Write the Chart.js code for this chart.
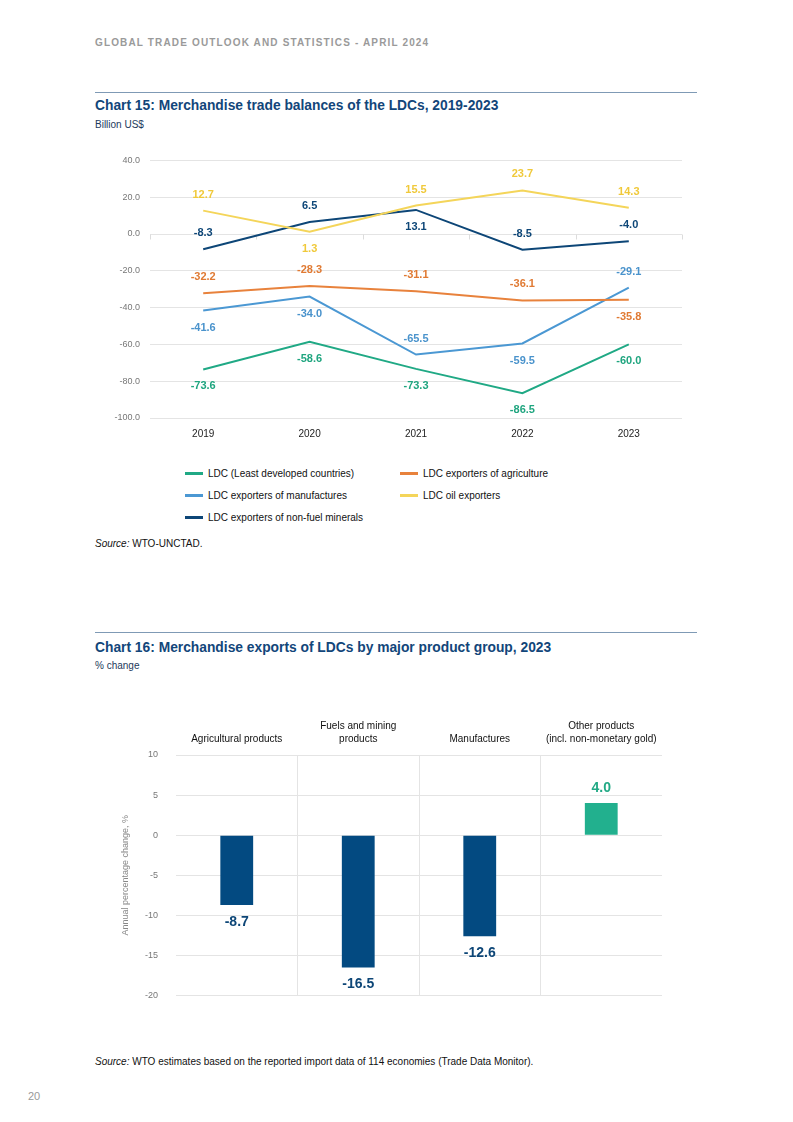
<!DOCTYPE html>
<html>
<head>
<meta charset="utf-8">
<script src="https://cdn.jsdelivr.net/npm/chart.js@4.4.1/dist/chart.umd.min.js"></script>
<style>
  body { margin: 0; background: #fff; font-family: "Liberation Sans", Arial, sans-serif; }
  #page { position: relative; width: 793px; height: 1122px; overflow: hidden; }
  .abs { position: absolute; white-space: nowrap; }
  .header { left: 95px; top: 37px; font-size: 10px; font-weight: bold; color: #9a9a9a; letter-spacing: 1.15px; }
  .rule { left: 95px; width: 602px; height: 1px; background: #7f9ab5; }
  .title { left: 95px; font-weight: bold; font-size: 13.8px; color: #12467a; }
  .sub { left: 95px; font-size: 10px; color: #1d3a5c; }
  .source { left: 95px; font-size: 10px; color: #111; }
  .legend-item { position: absolute; font-size: 10px; color: #111; }
  .legend-item span.sw { display: inline-block; width: 18px; height: 2.5px; vertical-align: middle; margin-right: 5px; position: relative; top: -1px; }
</style>
</head>
<body>
<div id="page">
  <div class="abs header">GLOBAL TRADE OUTLOOK AND STATISTICS - APRIL 2024</div>

  <div class="abs rule" style="top:92px"></div>
  <div class="abs title" style="top:98px">Chart 15: Merchandise trade balances of the LDCs, 2019-2023</div>
  <div class="abs sub" style="top:119px">Billion US$</div>
  <div class="abs" style="left:80px; top:145px; width:620px; height:300px;"><canvas id="chart15"></canvas></div>
  <div id="legend15"></div>
  <div class="abs source" style="top:538px"><i>Source:</i> WTO-UNCTAD.</div>

  <div class="abs rule" style="top:632px"></div>
  <div class="abs title" style="top:640px">Chart 16: Merchandise exports of LDCs by major product group, 2023</div>
  <div class="abs sub" style="top:660px">% change</div>
  <div class="abs" style="left:100px; top:700px; width:580px; height:319px;"><canvas id="chart16"></canvas></div>
  <div class="abs source" style="top:1056px"><i>Source:</i> WTO estimates based on the reported import data of 114 economies (Trade Data Monitor).</div>

  <div class="abs" style="left:28px; top:1090px; font-size:11px; color:#999;">20</div>
</div>

<script>
// ---- Chart 15 data ----
const years = ["2019", "2020", "2021", "2022", "2023"];
const ldcAll = [-73.6, -58.6, -73.3, -86.5, -60.0];
const ldcAgri = [-32.2, -28.3, -31.1, -36.1, -35.8];
const ldcManuf = [-41.6, -34.0, -65.5, -59.5, -29.1];
const ldcOil = [12.7, 1.3, 15.5, 23.7, 14.3];
const ldcMinerals = [-8.3, 6.5, 13.1, -8.5, -4.0];
const yTicks15 = [-100, 40, 20];

// ---- Chart 16 data ----
const productGroups = [
  ["Agricultural products"],
  ["Fuels and mining", "products"],
  ["Manufactures"],
  ["Other products", "(incl. non-monetary gold)"]
];
const exportChange = [-8.7, -16.5, -12.6, 4.0];
const yTicks16 = [-20, 10, 5];

// label placement: a = above, b = below
const series15 = [
  { label: "LDC (Least developed countries)", data: ldcAll, color: "#20a985", text: "#1fa57f", place: ["b", "b", "b", "b", "b"] },
  { label: "LDC exporters of agriculture", data: ldcAgri, color: "#e8823c", text: "#e07a33", place: ["a", "a", "a", "a", "b"] },
  { label: "LDC exporters of manufactures", data: ldcManuf, color: "#4b98d3", text: "#4a93cc", place: ["b", "b", "a", "b", "a"] },
  { label: "LDC oil exporters", data: ldcOil, color: "#f4d55a", text: "#f0c93a", place: ["a", "b", "a", "a", "a"] },
  { label: "LDC exporters of non-fuel minerals", data: ldcMinerals, color: "#0d4677", text: "#0d4677", place: ["a", "a", "b", "a", "a"] }
];

const lineLabels = {
  id: "lineLabels",
  afterDatasetsDraw(chart) {
    const ctx = chart.ctx;
    ctx.save();
    ctx.font = "bold 11px 'Liberation Sans', Arial, sans-serif";
    ctx.textAlign = "center";
    ctx.textBaseline = "middle";
    chart.data.datasets.forEach((ds, i) => {
      const s = series15[i];
      chart.getDatasetMeta(i).data.forEach((pt, j) => {
        const dy = s.place[j] === "a" ? -16 : 17;
        ctx.fillStyle = s.text;
        ctx.fillText(ds.data[j].toFixed(1), pt.x, pt.y + dy);
      });
    });
    ctx.restore();
  }
};

const zeroTicks = {
  id: "zeroTicks",
  beforeDatasetsDraw(chart) {
    const x = chart.scales.x, y = chart.scales.y;
    const y0 = Math.round(y.getPixelForValue(0)) + 0.5;
    const n = chart.data.labels.length;
    const ctx = chart.ctx;
    ctx.save();
    ctx.strokeStyle = "#dcdcdc";
    ctx.lineWidth = 1;
    for (let i = 0; i <= n; i++) {
      const px = Math.round(x.left + i * (x.right - x.left) / n) + 0.5;
      ctx.beginPath();
      ctx.moveTo(px, y0);
      ctx.lineTo(px, y0 + 5);
      ctx.stroke();
    }
    ctx.restore();
  }
};

new Chart(document.getElementById("chart15"), {
  type: "line",
  data: {
    labels: years,
    datasets: series15.map(s => ({
      label: s.label,
      data: s.data,
      borderColor: s.color,
      backgroundColor: s.color,
      borderWidth: 2,
      pointRadius: 0,
      tension: 0
    }))
  },
  options: {
    responsive: true,
    maintainAspectRatio: false,
    animation: false,
    layout: { padding: { top: 12, right: 18, bottom: 0, left: 0 } },
    plugins: { legend: { display: false }, tooltip: { enabled: false } },
    scales: {
      x: {
        offset: true,
        grid: { display: false, drawTicks: false },
        border: { display: false },
        ticks: { color: "#222", font: { size: 10, family: "'Liberation Sans', Arial" }, padding: 10 },
        afterFit(scale) { scale.height = 27; }
      },
      y: {
        min: yTicks15[0],
        max: yTicks15[1],
        border: { display: false },
        grid: { color: "#e4e4e4", drawTicks: false },
        ticks: {
          stepSize: yTicks15[2],
          color: "#777",
          font: { size: 9, family: "'Liberation Sans', Arial" },
          padding: 10,
          callback: v => v.toFixed(1)
        },
        afterFit(scale) { scale.width = 70; }
      }
    }
  },
  plugins: [zeroTicks, lineLabels]
});

// HTML legend, two columns
const legendPos = [[185, 468], [400, 468], [185, 490], [400, 490], [185, 512]];
const legendBox = document.getElementById("legend15");
series15.forEach((s, i) => {
  const el = document.createElement("div");
  el.className = "legend-item";
  el.style.left = legendPos[i][0] + "px";
  el.style.top = legendPos[i][1] + "px";
  el.innerHTML = '<span class="sw" style="background:' + s.color + '"></span>' + s.label;
  legendBox.appendChild(el);
});

// ---- Chart 16 ----
const barColors = exportChange.map(v => v < 0 ? "#034a81" : "#22b08e");

const barLabels = {
  id: "barLabels",
  afterDatasetsDraw(chart) {
    const ctx = chart.ctx;
    const ds = chart.data.datasets[0];
    ctx.save();
    ctx.font = "bold 14px 'Liberation Sans', Arial, sans-serif";
    ctx.textAlign = "center";
    ctx.textBaseline = "middle";
    chart.getDatasetMeta(0).data.forEach((bar, i) => {
      const v = ds.data[i];
      ctx.fillStyle = v < 0 ? "#0d4677" : "#22a985";
      ctx.fillText(v.toFixed(1), bar.x, bar.y + (v < 0 ? 17 : -15));
    });
    ctx.restore();
  }
};

new Chart(document.getElementById("chart16"), {
  type: "bar",
  data: {
    labels: productGroups,
    datasets: [{
      data: exportChange,
      backgroundColor: barColors,
      categoryPercentage: 1,
      barPercentage: 0.27
    }]
  },
  options: {
    responsive: true,
    maintainAspectRatio: false,
    animation: false,
    layout: { padding: { top: 0, right: 18, bottom: 5, left: 0 } },
    plugins: { legend: { display: false }, tooltip: { enabled: false } },
    scales: {
      x: {
        position: "top",
        border: { display: false },
        grid: {
          drawTicks: false,
          color: c => (c.type !== "tick" || c.index === 0) ? "rgba(0,0,0,0)" : "#e4e4e4"
        },
        ticks: { color: "#111", font: { size: 10, family: "'Liberation Sans', Arial", lineHeight: 1.35 }, padding: 9, maxRotation: 0 },
        afterFit(scale) { scale.height = 55; }
      },
      y: {
        min: yTicks16[0],
        max: yTicks16[1],
        border: { display: false },
        grid: { color: "#e4e4e4", drawTicks: false },
        ticks: { stepSize: yTicks16[2], color: "#777", font: { size: 9, family: "'Liberation Sans', Arial" }, padding: 18 },
        title: {
          display: true,
          text: "Annual percentage change, %",
          color: "#888",
          font: { size: 9, family: "'Liberation Sans', Arial" },
          padding: { top: 20, bottom: 0 }
        },
        afterFit(scale) { scale.width = 76; }
      }
    }
  },
  plugins: [barLabels]
});
</script>
</body>
</html>
